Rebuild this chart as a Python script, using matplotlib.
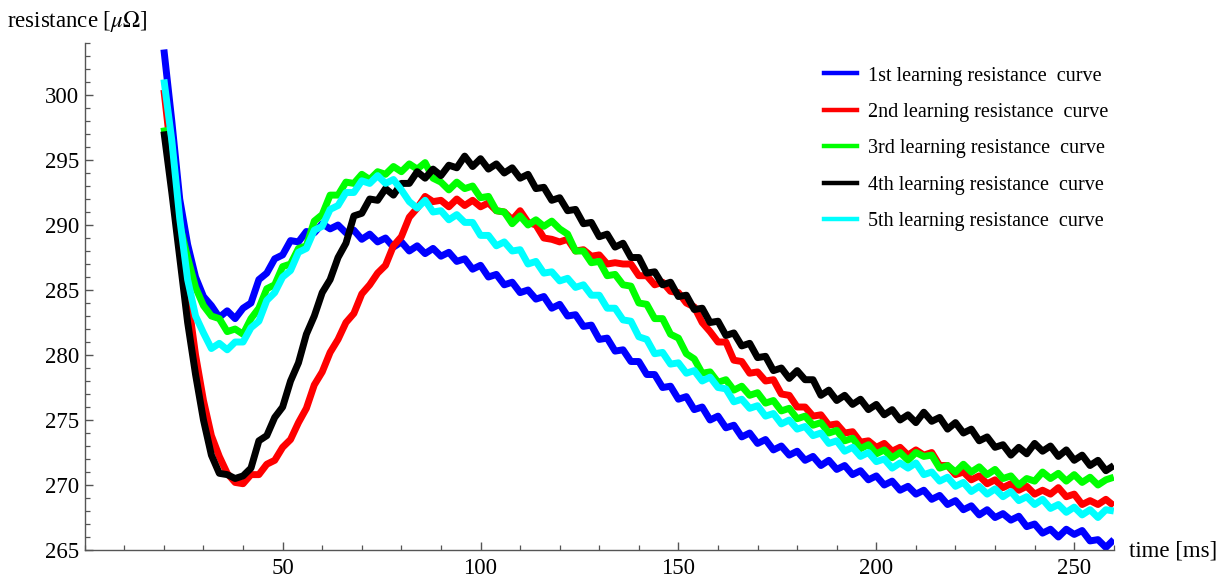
import numpy as np
import matplotlib
matplotlib.use("Agg")
import matplotlib.pyplot as plt
from matplotlib.ticker import MultipleLocator
from matplotlib.lines import Line2D

# time axis [ms]
time_ms = list(range(20, 261, 2))

labels = ["1st learning resistance  curve", "2nd learning resistance  curve",
          "3rd learning resistance  curve", "4th learning resistance  curve",
          "5th learning resistance  curve"]
colors = ["#0000ff", "#ff0000", "#00ff00", "#000000", "#00ffff"]

curve1 = [303.5, 298.0, 292.0, 288.5, 286.0, 284.5, 283.8, 282.9, 283.4, 282.8,
          283.6, 284.0, 285.8, 286.3, 287.4, 287.7, 288.8, 288.7, 289.5, 289.4,
          290.1, 289.7, 290.0, 289.4, 289.6, 288.9, 289.3, 288.7, 289.0, 288.3,
          288.7, 288.0, 288.4, 287.8, 288.2, 287.6, 287.9, 287.2, 287.4, 286.6,
          286.9, 286.0, 286.2, 285.4, 285.6, 284.8, 285.0, 284.3, 284.5, 283.6,
          283.9, 283.0, 283.1, 282.2, 282.3, 281.2, 281.3, 280.3, 280.4, 279.5,
          279.5, 278.5, 278.5, 277.5, 277.6, 276.6, 276.8, 275.8, 276.0, 275.0,
          275.3, 274.4, 274.6, 273.7, 274.0, 273.2, 273.5, 272.7, 273.0, 272.3,
          272.6, 271.9, 272.2, 271.5, 271.9, 271.2, 271.5, 270.8, 271.1, 270.4,
          270.7, 270.0, 270.3, 269.6, 269.9, 269.3, 269.6, 268.9, 269.2, 268.5,
          268.8, 268.1, 268.4, 267.7, 268.1, 267.5, 267.8, 267.3, 267.6, 266.8,
          267.0, 266.3, 266.6, 266.0, 266.6, 266.2, 266.5, 265.7, 265.8, 265.2,
          265.8]

curve2 = [300.4, 295.0, 289.5, 284.5, 280.0, 276.5, 273.8, 272.2, 270.9, 270.2,
          270.1, 270.8, 270.8, 271.6, 271.9, 272.9, 273.5, 274.8, 275.9, 277.7,
          278.7, 280.2, 281.2, 282.5, 283.2, 284.7, 285.4, 286.3, 286.9, 288.4,
          289.1, 290.6, 291.3, 292.2, 291.8, 291.9, 291.4, 292.0, 291.5, 291.9,
          291.4, 291.7, 291.1, 291.0, 290.4, 291.1, 290.2, 290.0, 289.0, 288.9,
          288.7, 288.9, 288.0, 288.1, 287.6, 287.7, 287.0, 287.1, 287.0, 287.0,
          286.1, 286.1, 285.4, 285.6, 284.9, 284.8, 284.0, 283.7, 282.5, 281.8,
          281.0, 281.0, 279.6, 279.5, 278.6, 278.7, 278.0, 278.1, 277.0, 276.9,
          276.0, 276.0, 275.3, 275.4, 274.6, 274.7, 274.0, 274.1, 273.3, 273.4,
          272.9, 273.2, 272.6, 272.9, 272.3, 272.7, 272.3, 272.5, 271.5, 271.5,
          270.8, 271.0, 270.4, 270.7, 270.1, 270.4, 269.8, 270.1, 269.6, 269.9,
          269.3, 269.6, 269.3, 269.8, 269.1, 269.3, 268.5, 268.8, 268.5, 268.9,
          268.4]

curve3 = [297.5, 293.5, 290.0, 287.5, 285.2, 283.8, 283.0, 282.8, 281.8, 282.0,
          281.6, 282.8, 283.6, 285.1, 285.4, 286.8, 287.0, 288.2, 288.4, 290.3,
          290.8, 292.3, 292.3, 293.3, 293.2, 293.9, 293.5, 294.1, 293.9, 294.5,
          294.1, 294.7, 294.3, 294.8, 293.6, 293.3, 292.7, 293.3, 292.8, 293.0,
          292.1, 292.2, 291.1, 291.0, 290.1, 290.7, 290.0, 290.4, 289.9, 290.3,
          289.7, 289.3, 288.0, 288.0, 287.1, 287.2, 286.1, 286.2, 285.4, 285.3,
          284.0, 283.9, 282.8, 282.8, 281.6, 281.3, 280.1, 279.7, 278.6, 278.7,
          277.9, 278.1, 277.3, 277.6, 276.9, 277.1, 276.3, 276.5, 275.7, 275.9,
          275.1, 275.3, 274.6, 274.8, 274.0, 274.2, 273.4, 273.6, 272.8, 273.1,
          272.4, 272.7, 272.1, 272.5, 271.9, 272.5, 272.2, 272.3, 271.3, 271.5,
          271.0, 271.6, 271.0, 271.4, 270.8, 271.2, 270.5, 270.7, 270.0, 270.5,
          270.3, 271.0, 270.5, 270.9, 270.3, 270.8, 270.2, 270.6, 270.0, 270.4,
          270.6]

curve4 = [297.2, 292.5, 287.5, 282.5, 278.5, 275.0, 272.3, 270.9, 270.8, 270.5,
          270.7, 271.3, 273.4, 273.8, 275.2, 276.0, 278.0, 279.4, 281.6, 283.0,
          284.8, 285.8, 287.5, 288.6, 290.7, 290.9, 292.0, 291.9, 292.8, 292.3,
          293.2, 293.2, 294.1, 293.6, 294.3, 293.8, 294.6, 294.4, 295.3, 294.5,
          295.1, 294.3, 294.7, 294.0, 294.4, 293.6, 293.9, 292.8, 292.9, 291.9,
          292.1, 291.1, 291.2, 290.1, 290.2, 289.1, 289.3, 288.3, 288.6, 287.5,
          287.5, 286.3, 286.4, 285.4, 285.6, 284.5, 284.6, 283.5, 283.6, 282.5,
          282.6, 281.5, 281.7, 280.7, 280.9, 279.8, 279.9, 278.8, 279.0, 278.2,
          278.8, 278.1, 278.1, 276.9, 277.3, 276.5, 276.9, 276.2, 276.6, 275.8,
          276.2, 275.4, 275.8, 275.0, 275.4, 274.8, 275.6, 274.9, 275.2, 274.3,
          274.8, 274.0, 274.3, 273.4, 273.7, 272.9, 273.1, 272.3, 272.9, 272.4,
          273.2, 272.6, 273.0, 272.2, 272.7, 271.9, 272.3, 271.5, 271.9, 271.1,
          271.5]

curve5 = [301.2, 296.5, 290.5, 285.8, 283.0, 281.7, 280.5, 280.9, 280.4, 281.0,
          281.0, 282.1, 282.6, 284.2, 284.8, 286.0, 286.5, 287.9, 288.2, 289.6,
          289.9, 291.2, 291.5, 292.5, 292.5, 293.4, 293.2, 293.8, 293.2, 293.5,
          292.7, 291.8, 291.3, 291.9, 291.0, 291.1, 290.4, 290.8, 290.2, 290.2,
          289.2, 289.2, 288.4, 288.7, 288.0, 288.1, 287.0, 287.2, 286.3, 286.4,
          285.7, 285.9, 285.2, 285.4, 284.6, 284.6, 283.6, 283.6, 282.7, 282.6,
          281.4, 281.2, 280.1, 280.2, 279.3, 279.4, 278.6, 278.8, 278.0, 278.3,
          277.5, 277.4, 276.4, 276.6, 275.9, 276.1, 275.3, 275.5, 274.7, 275.0,
          274.3, 274.5, 273.8, 274.0, 273.2, 273.4, 272.6, 272.9, 272.2, 272.5,
          271.8, 272.0, 271.3, 271.7, 271.3, 271.7, 270.8, 271.0, 270.3, 270.6,
          269.9, 270.2, 269.5, 269.9, 269.3, 269.7, 269.1, 269.5, 268.8, 269.1,
          268.5, 268.9, 268.2, 268.5, 267.9, 268.3, 267.7, 268.1, 267.5, 268.1,
          268.0]

series = [curve1, curve2, curve3, curve4, curve5]

plt.rcParams['font.family'] = ['Liberation Serif', 'DejaVu Serif']
plt.rcParams['mathtext.fontset'] = 'stix'

fig = plt.figure(figsize=(12.28, 5.78), dpi=100)
ax = fig.add_axes([0.069, 0.0484, 0.838, 0.8772])

for vals, c in zip(series, colors):
    ax.plot(time_ms, vals, color=c, lw=5.0, solid_joinstyle='round',
            solid_capstyle='butt')

ax.set_xlim(0, 260)
ax.set_ylim(265, 304)
ax.xaxis.set_major_locator(MultipleLocator(50))
ax.xaxis.set_minor_locator(MultipleLocator(10))
ax.yaxis.set_major_locator(MultipleLocator(5))
ax.yaxis.set_minor_locator(MultipleLocator(1))
ax.set_xticks([50, 100, 150, 200, 250])
ax.set_xticklabels(["50", "100", "150", "200", "250"])

for s in ['top', 'right']:
    ax.spines[s].set_visible(False)
for s in ['left', 'bottom']:
    ax.spines[s].set_color('#555555')
    ax.spines[s].set_linewidth(1.0)

ax.tick_params(which='major', direction='in', length=6, width=1.0,
               color='#555555', labelsize=16.5, pad=6)
ax.tick_params(which='minor', direction='in', length=3.5, width=0.9,
               color='#555555')
ax.tick_params(axis='y', which='major', pad=4)

fig.text(0.006, 0.962, r"resistance [$\mu\Omega$]", fontsize=16.5,
         ha='left', va='center')
fig.text(0.919, 0.047, "time [ms]", fontsize=16.5, ha='left', va='center')

handles = [Line2D([0], [0], color=c, lw=3.2) for c in colors]
leg = ax.legend(handles, labels, loc='upper left',
                bbox_to_anchor=(0.6645, 0.899), bbox_transform=fig.transFigure,
                frameon=False, fontsize=14.5, handlelength=1.65,
                handletextpad=0.55, labelspacing=0.86, borderaxespad=0)

fig.savefig("out.png", dpi=100)
